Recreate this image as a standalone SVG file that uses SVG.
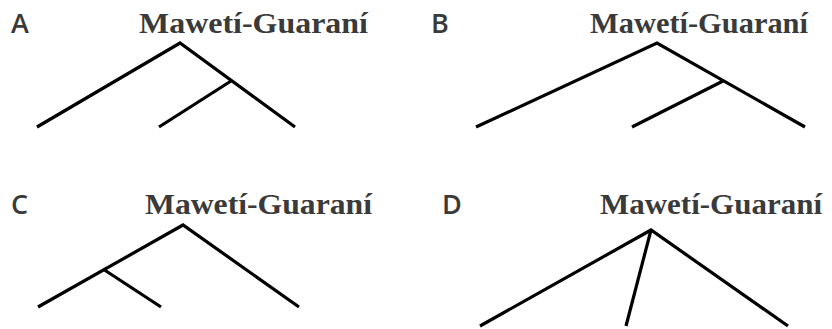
<svg xmlns="http://www.w3.org/2000/svg" width="832" height="329" viewBox="0 0 832 329">
<style>
.lbl{font-family:"Open Sans","Liberation Sans",sans-serif;font-weight:600;font-size:27px;fill:#3a3a3a}
.ttl{font-family:"Liberation Serif","Times New Roman",serif;font-weight:700;font-size:29px;fill:#3a3a3a}
.br{stroke:#000;stroke-width:3.2;fill:none;stroke-linecap:butt}
</style>
<rect width="832" height="329" fill="#fff"/>
<g id="panelA">
<text class="lbl" x="11" y="33">A</text>
<text class="ttl" x="139" y="33" textLength="229" lengthAdjust="spacingAndGlyphs">Mawetí-Guaraní</text>
</g>
<g id="panelB">
<text class="lbl" x="431" y="33">B</text>
<text class="ttl" x="590" y="33" textLength="218" lengthAdjust="spacingAndGlyphs">Mawetí-Guaraní</text>
</g>
<g id="panelC">
<text class="lbl" x="11" y="214">C</text>
<text class="ttl" x="145" y="214" textLength="227" lengthAdjust="spacingAndGlyphs">Mawetí-Guaraní</text>
</g>
<g id="panelD">
<text class="lbl" x="442" y="214">D</text>
<text class="ttl" x="600" y="214" textLength="222" lengthAdjust="spacingAndGlyphs">Mawetí-Guaraní</text>
</g>
<g id="connectors">
<polyline class="br" points="37,127 180,43 295,127"/>
<line class="br" x1="159" y1="127" x2="231" y2="81"/>
<polyline class="br" points="476,127 657,43 805,127"/>
<line class="br" x1="632" y1="127" x2="723" y2="81"/>
<polyline class="br" points="38,307 183,225 299,307"/>
<line class="br" x1="103" y1="269" x2="161" y2="307"/>
<polyline class="br" points="480,326 651,230 788,326"/>
<line class="br" x1="651" y1="230" x2="626" y2="326"/>
</g>
</svg>
